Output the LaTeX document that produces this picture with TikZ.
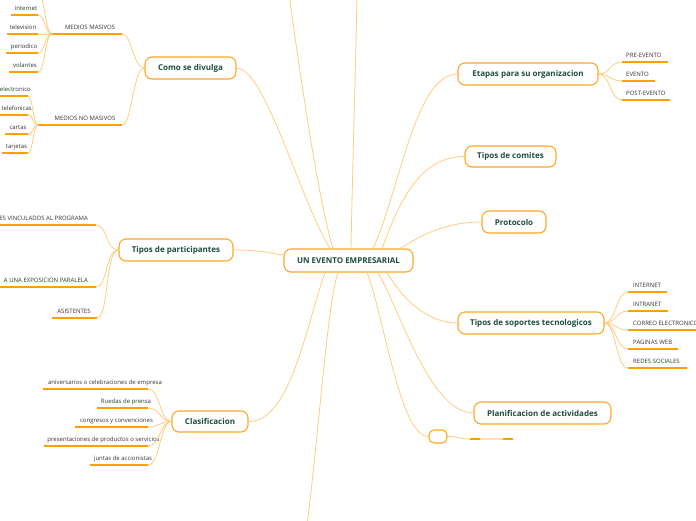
\documentclass[tikz,border=0pt]{standalone}
\usepackage{fontspec}
\setmainfont{Open Sans}
\usetikzlibrary{calc}
\definecolor{boxor}{HTML}{FFA726}
\definecolor{lineor}{HTML}{FFCC80}
\definecolor{ulor}{HTML}{FFA000}
\definecolor{ullight}{HTML}{FFE0B2}
\definecolor{tgreen}{HTML}{1D4D3C}
\definecolor{tgrey}{HTML}{333333}
\tikzset{
  topic/.style={draw=boxor, line width=1.1pt, rounded corners=7pt, fill=white,
    text=tgreen, font=\bfseries\fontsize{8}{9.5}\selectfont, inner sep=0pt},
  subtxt/.style={text=tgrey, font=\fontsize{6}{7}\selectfont, inner xsep=0pt,
    inner ysep=3pt, text height=4.4pt, text depth=1.3pt},
  uline/.style={draw=ulor, line width=1.3pt},
  conn/.style={draw=lineor, line width=0.8pt},
}
% [anchor]{name}{x}{y}{left}{right}{text}
\newcommand\mmitem[7][south]{%
  \node[subtxt, anchor=#1] (#2) at (#3,#4) {#7};
  \coordinate (#2-l) at (#5,#4);
  \coordinate (#2-r) at (#6,#4);
  \draw[uline] (#2-l) -- (#2-r);
}
\begin{document}
\begin{tikzpicture}[x=1pt,y=-1pt]
\useasboundingbox (0,0) rectangle (696,520);
\clip (0,0) rectangle (696,520);

% ---------- topics ----------
\node[topic, minimum width=129pt, minimum height=23pt] (c) at (348.5,260.5) {UN EVENTO EMPRESARIAL};
\node[topic, minimum width=91pt, minimum height=22pt] (divulga) at (190.5,68) {Como se divulga};
\node[topic, minimum width=140pt, minimum height=22pt] (etapas) at (528,74) {Etapas para su organizacion};
\node[topic, minimum width=91pt, minimum height=21pt] (comites) at (510.5,156.5) {Tipos de comites};
\node[topic, minimum width=64pt, minimum height=22pt] (protocolo) at (514,222) {Protocolo};
\node[topic, minimum width=146pt, minimum height=22pt] (soportes) at (531,323) {Tipos de soportes tecnologicos};
\node[topic, minimum width=137pt, minimum height=22pt] (planif) at (542.5,413) {Planificacion de actividades};
\node[topic, minimum width=18pt, minimum height=13pt, rounded corners=5pt] (empty) at (438,436.5) {};
\node[topic, minimum width=114pt, minimum height=22pt] (particip) at (176,250) {Tipos de participantes};
\node[topic, minimum width=76pt, minimum height=21pt] (clasif) at (210,421.5) {Clasificacion};

\coordinate (topA) at (289,-6);
\coordinate (topB) at (357,-6);
\coordinate (botA) at (307,526);
\coordinate (hid-r) at (38,-6);

% ---------- sub items ----------
\mmitem{mm}{90}{34}{52}{122}{MEDIOS MASIVOS}
\mmitem{mnm}{85}{125}{38}{122}{MEDIOS NO MASIVOS}
\mmitem{internet}{26}{15}{11}{38}{internet}
\mmitem{television}{23}{34}{7}{38}{television}
\mmitem{periodico}{24}{53}{6}{38}{periodico}
\mmitem{volantes}{25}{72}{9}{38}{volantes}
\mmitem[south east]{electronico}{31}{96}{-4}{28}{electronico}
\mmitem[south east]{telefonicas}{32}{115}{-4}{28}{telefonicas}
\mmitem{cartas}{18}{134}{5}{28}{cartas}
\mmitem{tarjetas}{16.5}{153}{2}{28}{tarjetas}

\mmitem[south east]{vinc}{88}{225}{-4}{96}{ES VINCULADOS AL PROGRAMA}
\mmitem[south east]{expo}{88}{287}{-4}{96}{A UNA EXPOSICION PARALELA}
\mmitem{asist}{74}{318}{52}{97}{ASISTENTES}

\mmitem{aniv}{105}{389}{43}{148}{aniversarios o celebraciones de empresa}
\mmitem{ruedas}{126}{408}{97}{148}{Ruedas de prensa}
\mmitem{congresos}{116.5}{427}{75}{148}{congresos y convenciones}
\mmitem{present}{103.5}{446}{44}{148}{presentaciones de productos o servicios}
\mmitem{juntas}{123}{465}{90}{148}{juntas de accionistas}

\mmitem[south west]{pre}{626}{62}{622}{668}{PRE-EVENTO}
\mmitem[south west]{evento}{626}{81}{622}{655}{EVENTO}
\mmitem[south west]{post}{626}{100}{622}{670}{POST-EVENTO}

\mmitem[south west]{inet}{633}{292}{628}{667}{INTERNET}
\mmitem[south west]{intranet}{633}{311}{628}{668}{INTRANET}
\mmitem[south west]{correo}{633}{330}{628}{700}{CORREO ELECTRONICO}
\mmitem[south west]{paginas}{633}{349}{628}{678}{PAGINAS WEB}
\mmitem[south west]{redes}{633}{368}{628}{687}{REDES SOCIALES}

\mmitem{emptysub}{491.5}{439}{470}{513}{}
\draw[draw=ullight, line width=1.3pt] (480,439) -- (503,439);

% ---------- connectors from centre ----------
\draw[conn] ([xshift=-18.5pt]c.north) .. controls (300,200) and (265,68) .. (divulga.east);
\draw[conn] ([xshift=-15.5pt]c.north) .. controls (318,200) and (298,60) .. (topA);
\draw[conn] ([xshift=2.5pt]c.north) .. controls (353,150) and (356,50) .. (topB);
\draw[conn] ([xshift=24.5pt]c.north) .. controls (400,190) and (415,74) .. (etapas.west);
\draw[conn] ([xshift=33.5pt]c.north) .. controls (400,200) and (420,156.5) .. (comites.west);
\draw[conn] ([xshift=51.5pt]c.north) .. controls (420,236) and (445,222) .. (protocolo.west);
\draw[conn] (particip.east) .. controls (260,250) and (270,253) .. ([yshift=5.5pt]c.west);
\draw[conn] ([xshift=-23.5pt]c.south) .. controls (305,330) and (290,421.5) .. (clasif.east);
\draw[conn] ([xshift=-10.5pt]c.south) .. controls (328,300) and (320,420) .. (botA);
\draw[conn] ([xshift=18.5pt]c.south) .. controls (385,320) and (400,436.5) .. (empty.west);
\draw[conn] ([xshift=29.5pt]c.south) .. controls (400,310) and (430,413) .. (planif.west);
\draw[conn] ([xshift=38.5pt]c.south) .. controls (400,295) and (425,323) .. (soportes.west);

% ---------- connectors to sub items ----------
\foreach \n in {mm,mnm}
  \draw[conn] (divulga.west) .. controls (133,68) and ([xshift=10pt]\n-r) .. (\n-r);
\foreach \n in {internet,television,periodico,volantes,hid}
  \draw[conn] (mm-l) .. controls (45,34) and ([xshift=7pt]\n-r) .. (\n-r);
\foreach \n in {electronico,telefonicas,cartas,tarjetas}
  \draw[conn] (mnm-l) .. controls (33,125) and ([xshift=5pt]\n-r) .. (\n-r);
\foreach \n in {vinc,expo,asist}
  \draw[conn] (particip.west) .. controls (105,250) and ([xshift=12pt]\n-r) .. (\n-r);
\foreach \n in {aniv,ruedas,congresos,present,juntas}
  \draw[conn] (clasif.west) .. controls (160,421.5) and ([xshift=12pt]\n-r) .. (\n-r);
\foreach \n in {pre,evento,post}
  \draw[conn] (etapas.east) .. controls (610,74) and ([xshift=-12pt]\n-l) .. (\n-l);
\foreach \n in {inet,intranet,correo,paginas,redes}
  \draw[conn] (soportes.east) .. controls (616,323) and ([xshift=-12pt]\n-l) .. (\n-l);
\draw[conn] (empty.east) .. controls (458,436.5) and (460,439) .. (emptysub-l);
\end{tikzpicture}
\end{document}
